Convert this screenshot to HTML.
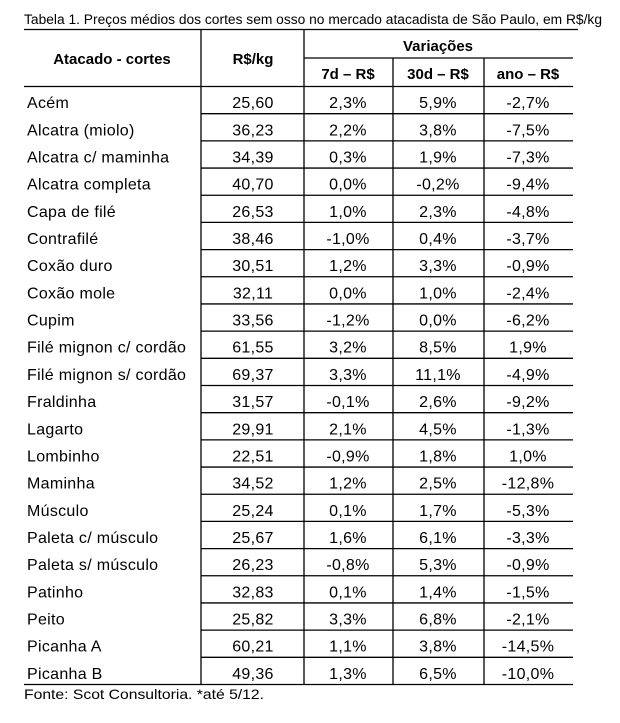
<!DOCTYPE html>
<html><head><meta charset="utf-8"><style>
body{margin:0;background:#fff;width:620px;height:723px;overflow:hidden}
svg{display:block;font-family:"Liberation Sans",sans-serif}
</style></head><body>
<svg id="t" width="620" height="723">
<text x="24" y="24" font-size="13.5" textLength="578" lengthAdjust="spacingAndGlyphs">Tabela 1. Preços médios dos cortes sem osso no mercado atacadista de São Paulo, em R$/kg</text>
<g stroke="#000" stroke-width="1.3">
<line x1="24" y1="29.5" x2="578" y2="29.5"/>
<line x1="304" y1="58" x2="573" y2="58"/>
<line x1="24" y1="86.5" x2="573" y2="86.5"/>
<line x1="24" y1="684.5" x2="573" y2="684.5"/>
<line x1="201" y1="29" x2="201" y2="685"/>
<line x1="304" y1="29" x2="304" y2="685"/>
<line x1="393" y1="58" x2="393" y2="685"/>
<line x1="484" y1="58" x2="484" y2="685"/>
</g>
<g font-weight="bold" font-size="15" text-anchor="middle">
<text x="112" y="64">Atacado - cortes</text>
<text x="253" y="64">R$/kg</text>
<text x="438" y="51">Variações</text>
<text x="348" y="79">7d – R$</text>
<text x="438" y="79">30d – R$</text>
<text x="528" y="79">ano – R$</text>
</g>
<g id="rows"></g>
<text x="24" y="699" font-size="14" textLength="240" lengthAdjust="spacingAndGlyphs">Fonte: Scot Consultoria. *até 5/12.</text>
</svg>
<script>
const cuts=["Acém","Alcatra (miolo)","Alcatra c/ maminha","Alcatra completa","Capa de filé","Contrafilé","Coxão duro","Coxão mole","Cupim","Filé mignon c/ cordão","Filé mignon s/ cordão","Fraldinha","Lagarto","Lombinho","Maminha","Músculo","Paleta c/ músculo","Paleta s/ músculo","Patinho","Peito","Picanha A","Picanha B"];
const prices=["25,60","36,23","34,39","40,70","26,53","38,46","30,51","32,11","33,56","61,55","69,37","31,57","29,91","22,51","34,52","25,24","25,67","26,23","32,83","25,82","60,21","49,36"];
const var7d=["2,3%","2,2%","0,3%","0,0%","1,0%","-1,0%","1,2%","0,0%","-1,2%","3,2%","3,3%","-0,1%","2,1%","-0,9%","1,2%","0,1%","1,6%","-0,8%","0,1%","3,3%","1,1%","1,3%"];
const var30d=["5,9%","3,8%","1,9%","-0,2%","2,3%","0,4%","3,3%","1,0%","0,0%","8,5%","11,1%","2,6%","4,5%","1,8%","2,5%","1,7%","6,1%","5,3%","1,4%","6,8%","3,8%","6,5%"];
const varYear=["-2,7%","-7,5%","-7,3%","-9,4%","-4,8%","-3,7%","-0,9%","-2,4%","-6,2%","1,9%","-4,9%","-9,2%","-1,3%","1,0%","-12,8%","-5,3%","-3,3%","-0,9%","-1,5%","-2,1%","-14,5%","-10,0%"];
const NS="http://www.w3.org/2000/svg";
const g=document.getElementById('rows');
const top0=86.5, bottom=684.5, rh=(bottom-top0)/cuts.length;
function txt(x,y,s,anchor,name){
  const t=document.createElementNS(NS,'text');
  t.setAttribute('x',x);t.setAttribute('y',y);t.setAttribute('font-size','16');
  t.setAttribute('letter-spacing','0.3');
  t.setAttribute('text-anchor',anchor);t.textContent=s;
  
  
  g.appendChild(t);
}
cuts.forEach((c,i)=>{
  const y0=top0+i*rh, ty=y0+rh/2+8;
  if(i>0){
    const l=document.createElementNS(NS,'line');
    l.setAttribute('x1',201);l.setAttribute('x2',573);l.setAttribute('y1',y0);l.setAttribute('y2',y0);
    l.setAttribute('stroke','#000');l.setAttribute('stroke-width','1.3');
    
    
    g.appendChild(l);
  }
  txt(27,ty,c,'start','cut-name');
  txt(253,ty,prices[i],'middle','cut-price');
  txt(348,ty,var7d[i],'middle','var-7d');
  txt(438,ty,var30d[i],'middle','var-30d');
  txt(528,ty,varYear[i],'middle','var-year');
});
</script>
</body></html>
